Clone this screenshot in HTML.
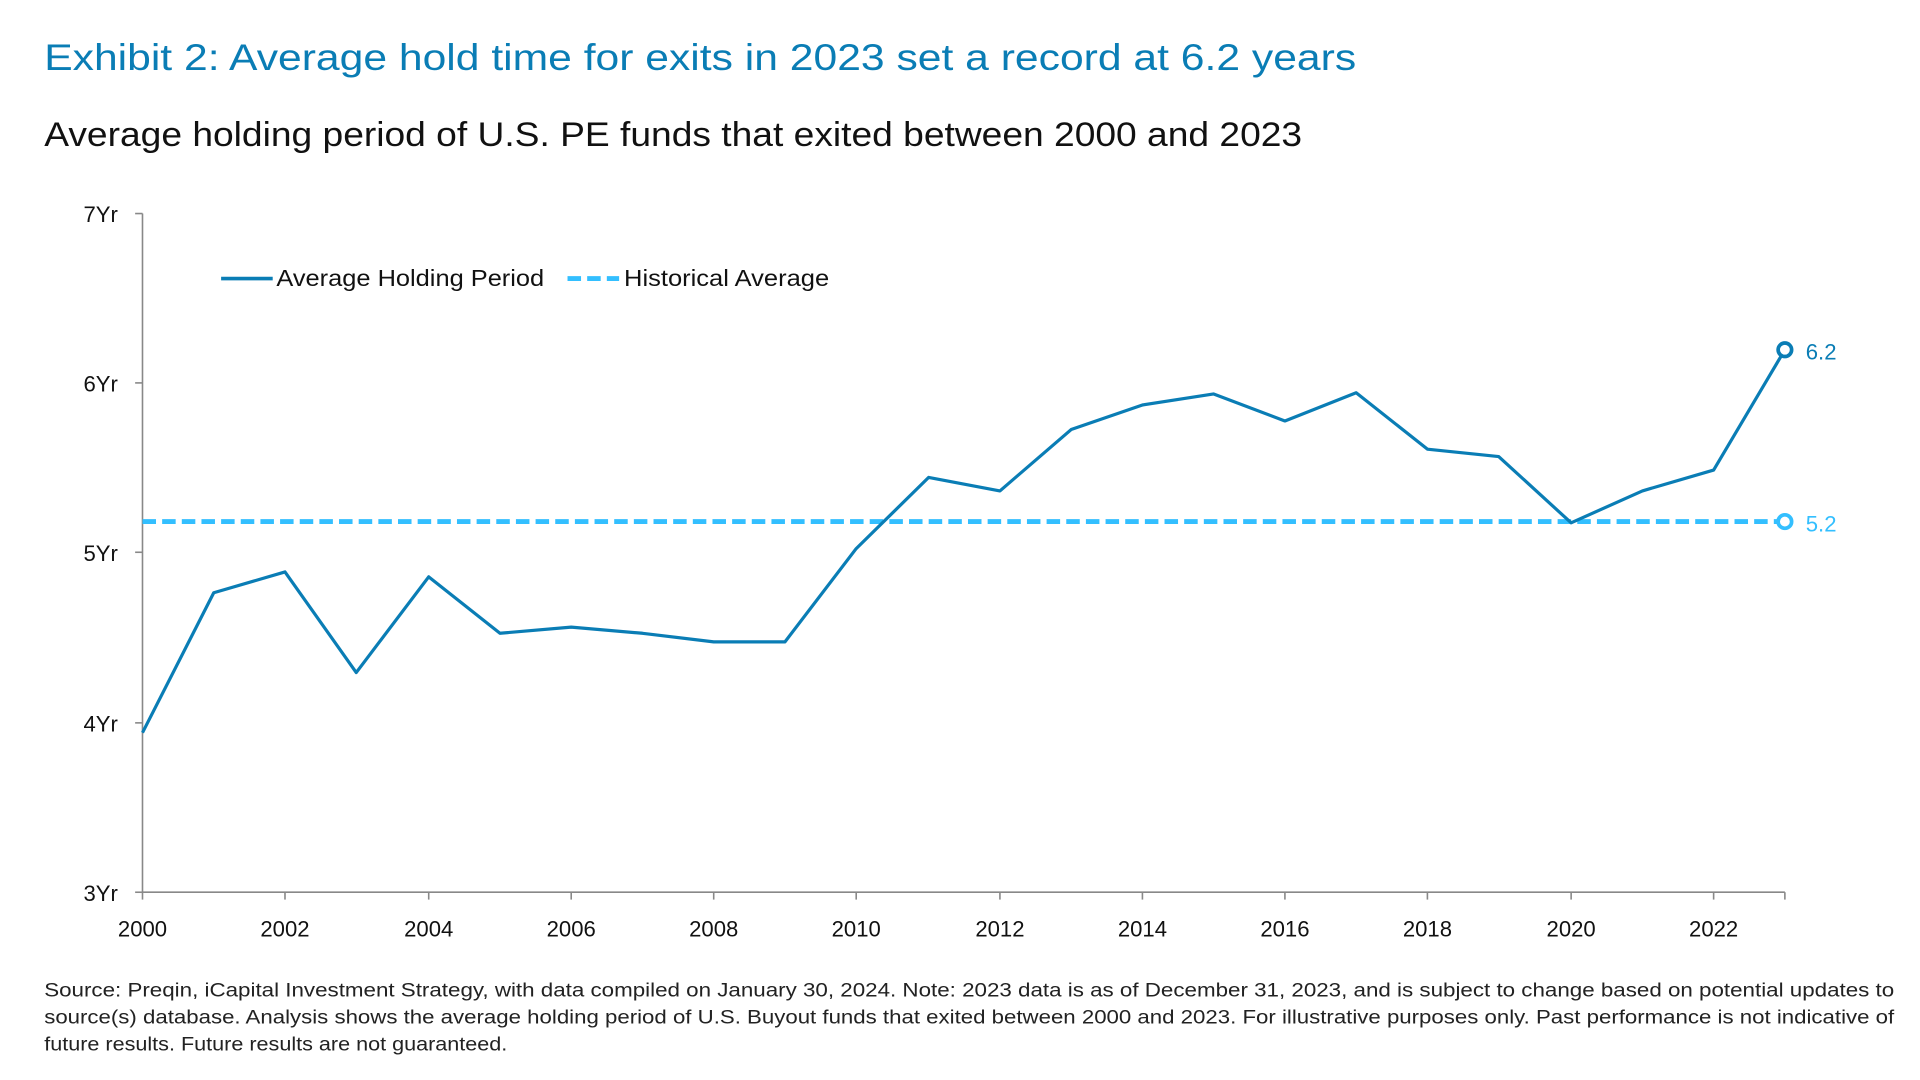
<!DOCTYPE html>
<html><head><meta charset="utf-8"><style>html,body{margin:0;padding:0;background:#fff;width:1920px;height:1080px;overflow:hidden}</style></head>
<body>
<svg width="1920" height="1080" viewBox="0 0 1563 880" preserveAspectRatio="none" xmlns="http://www.w3.org/2000/svg" font-family="Liberation Sans, sans-serif">
<text x="36" y="57" font-size="30" fill="#0a7db5" textLength="1068" lengthAdjust="spacingAndGlyphs">Exhibit 2: Average hold time for exits in 2023 set a record at 6.2 years</text>
<text x="36" y="119" font-size="28" fill="#111" textLength="1024" lengthAdjust="spacingAndGlyphs">Average holding period of U.S. PE funds that exited between 2000 and 2023</text>
<g stroke="#888" stroke-width="1.3">
<line x1="116" y1="174" x2="116" y2="727"/>
<line x1="116" y1="727" x2="1453" y2="727"/>
<line x1="110" y1="174" x2="116" y2="174"/><line x1="110" y1="312" x2="116" y2="312"/><line x1="110" y1="450" x2="116" y2="450"/><line x1="110" y1="589" x2="116" y2="589"/><line x1="110" y1="727" x2="116" y2="727"/>
<line x1="116" y1="727" x2="116" y2="733"/><line x1="232" y1="727" x2="232" y2="733"/><line x1="349" y1="727" x2="349" y2="733"/><line x1="465" y1="727" x2="465" y2="733"/><line x1="581" y1="727" x2="581" y2="733"/><line x1="697" y1="727" x2="697" y2="733"/><line x1="814" y1="727" x2="814" y2="733"/><line x1="930" y1="727" x2="930" y2="733"/><line x1="1046" y1="727" x2="1046" y2="733"/><line x1="1162" y1="727" x2="1162" y2="733"/><line x1="1279" y1="727" x2="1279" y2="733"/><line x1="1395" y1="727" x2="1395" y2="733"/><line x1="1453" y1="727" x2="1453" y2="733"/>
</g>
<g font-size="18" fill="#111" text-anchor="end">
<text x="96" y="181">7Yr</text><text x="96" y="319">6Yr</text><text x="96" y="457">5Yr</text><text x="96" y="596">4Yr</text><text x="96" y="734">3Yr</text>
</g>
<g font-size="18" fill="#111" text-anchor="middle">
<text x="116" y="763">2000</text><text x="232" y="763">2002</text><text x="349" y="763">2004</text><text x="465" y="763">2006</text><text x="581" y="763">2008</text><text x="697" y="763">2010</text><text x="814" y="763">2012</text><text x="930" y="763">2014</text><text x="1046" y="763">2016</text><text x="1162" y="763">2018</text><text x="1279" y="763">2020</text><text x="1395" y="763">2022</text>
</g>
<line x1="116" y1="425" x2="1453" y2="425" stroke="#33bfff" stroke-width="4" stroke-dasharray="11,5"/>
<polyline fill="none" stroke="#0a7db5" stroke-width="2.6" stroke-linejoin="round" points="116,597 174,483 232,466 290,548 349,470 407,516 465,511 523,516 581,523 639,523 697,447 756,389 814,400 872,350 930,330 988,321 1046,343 1104,320 1162,366 1220,372 1279,426 1337,400 1395,383 1453,285"/>
<circle cx="1453" cy="285" r="5.5" fill="#fff" stroke="#0a7db5" stroke-width="3"/>
<circle cx="1453" cy="425" r="5.5" fill="#fff" stroke="#33bfff" stroke-width="3"/>
<text x="1470" y="293" font-size="18" fill="#0a7db5">6.2</text>
<text x="1470" y="433" font-size="18" fill="#33bfff">5.2</text>
<line x1="180" y1="227" x2="222" y2="227" stroke="#0a7db5" stroke-width="3"/>
<text x="225" y="233" font-size="19" fill="#111" textLength="218" lengthAdjust="spacingAndGlyphs">Average Holding Period</text>
<line x1="462" y1="227" x2="504" y2="227" stroke="#33bfff" stroke-width="4" stroke-dasharray="11,5"/>
<text x="508" y="233" font-size="19" fill="#111" textLength="167" lengthAdjust="spacingAndGlyphs">Historical Average</text>
<g font-size="15.5" fill="#222">
<text x="36" y="812" textLength="1506" lengthAdjust="spacingAndGlyphs">Source: Preqin, iCapital Investment Strategy, with data compiled on January 30, 2024. Note: 2023 data is as of December 31, 2023, and is subject to change based on potential updates to</text>
<text x="36" y="834" textLength="1506" lengthAdjust="spacingAndGlyphs">source(s) database. Analysis shows the average holding period of U.S. Buyout funds that exited between 2000 and 2023. For illustrative purposes only. Past performance is not indicative of</text>
<text x="36" y="856" textLength="377" lengthAdjust="spacingAndGlyphs">future results. Future results are not guaranteed.</text>
</g>
</svg>
</body></html>
